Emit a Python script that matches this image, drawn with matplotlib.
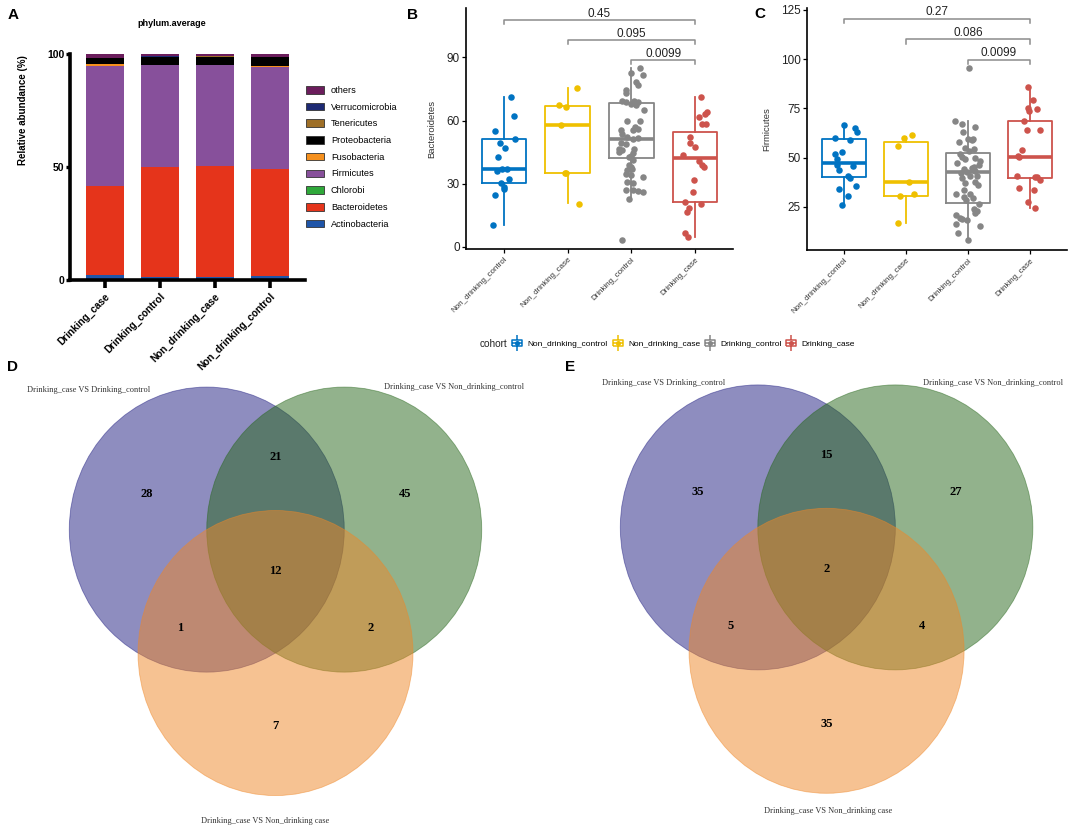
import numpy as np
import matplotlib
matplotlib.use("Agg")
import matplotlib.pyplot as plt
from matplotlib.patches import Circle, Patch
from matplotlib.lines import Line2D
from matplotlib.path import Path

plt.rcParams['font.family'] = ['Liberation Sans', 'DejaVu Sans']

W, H = 1084, 827

# ---------------- panel A data: phylum average (%)
groups_a = ['Drinking_case', 'Drinking_control', 'Non_drinking_case', 'Non_drinking_control']
phyla = ['Actinobacteria', 'Bacteroidetes', 'Chlorobi', 'Firmicutes', 'Fusobacteria',
         'Proteobacteria', 'Tenericutes', 'Verrucomicrobia', 'others']
phylum_colors = ['#1f55a8', '#e5341b', '#2fa83a', '#87509b', '#f5901e',
                 '#000000', '#9e6f27', '#1d2a73', '#6b1d5c']
abund_dcase = [2.2, 39.5, 0.1, 53.0, 0.9, 2.4, 0.2, 0.1, 1.6]
abund_dctrl = [1.4, 48.7, 0.1, 44.8, 0.2, 3.5, 0.1, 0.1, 1.1]
abund_ndcase = [1.4, 49.0, 0.1, 44.5, 0.2, 3.6, 0.1, 0.1, 1.0]
abund_ndctrl = [1.6, 47.5, 0.1, 45.2, 0.2, 4.0, 0.1, 0.1, 1.2]

# ---------------- panels B, C data
cohorts = ['Non_drinking_control', 'Non_drinking_case', 'Drinking_control', 'Drinking_case']
cohort_colors = ['#0073C2', '#EFC000', '#868686', '#CD534C']

# box stats per cohort: (lower whisker, q1, median, q3, upper whisker)
bact_stats = [[10.4, 30.5, 37.1, 51.1, 71.3], [20.7, 35.0, 57.9, 66.9, 75.3],
              [22.3, 42.4, 51.1, 68.5, 84.7], [4.9, 21.2, 42.1, 54.7, 71.3]]
firm_stats = [[25.8, 39.9, 47.3, 59.5, 66.4], [16.8, 30.5, 37.5, 57.7, 60.2],
              [8.0, 26.7, 42.6, 52.1, 68.7], [24.6, 39.5, 50.4, 68.7, 86.0]]

# Bacteroidetes samples and their horizontal jitter
bact_ndctrl = [71.3, 62.1, 54.9, 51.2, 49.3, 47.0, 42.5, 36.2, 37.1, 37.1, 32.4, 30.2, 28.6, 27.4, 24.5, 10.3]
bact_ndctrl_j = [0.10, 0.16, -0.14, 0.17, -0.06, 0.01, -0.09, -0.12, -0.04, 0.04, 0.08, -0.05, 0.0, 0.0, -0.14, -0.18]
bact_ndcase = [75.3, 67.4, 66.6, 57.9, 35.0, 35.2, 20.4]
bact_ndcase_j = [0.15, -0.13, -0.03, -0.11, -0.05, -0.03, 0.17]
bact_dctrl = [82.7, 84.7, 81.6, 78.4, 77.1, 74.5, 72.9, 69.5, 69.0, 69.5, 69.0, 68.0, 67.5, 64.9,
              59.9, 59.9, 56.8, 55.5, 55.8, 55.5, 53.6, 52.0, 51.1, 51.5, 49.5, 48.9, 46.3, 46.0,
              45.2, 46.3, 44.4, 43.2, 42.8, 41.3, 38.9, 38.1, 36.5, 36.9, 34.6, 34.2, 33.1, 31.0,
              30.2, 27.0, 27.0, 26.2, 26.5, 22.6, 3.3]
bact_dctrl_j = [0.0, 0.14, 0.19, 0.07, 0.11, -0.08, -0.09, -0.14, -0.08, 0.05, 0.11, 0.0, 0.07, 0.20,
                -0.06, 0.13, 0.06, 0.02, 0.10, -0.16, -0.14, -0.06, 0.02, 0.11, -0.16, -0.08, -0.20, -0.14,
                -0.19, 0.05, 0.02, 0.0, -0.04, 0.02, -0.03, 0.0, -0.06, 0.01, -0.08, 0.0, 0.18, -0.06,
                0.02, -0.08, 0.02, 0.19, 0.10, -0.03, -0.15]
bact_dcase = [71.3, 64.2, 63.1, 61.7, 58.3, 58.3, 52.0, 49.2, 47.6, 43.6, 41.0, 38.9, 37.8, 31.8,
              26.2, 21.2, 20.3, 18.4, 16.8, 6.8, 4.9]
bact_dcase_j = [0.09, 0.19, 0.16, 0.07, 0.11, 0.17, -0.08, -0.08, 0.01, -0.18, 0.07, 0.11, 0.14, -0.02,
                -0.03, -0.15, 0.10, -0.09, -0.12, -0.16, -0.11]

# Firmicutes samples and their horizontal jitter
firm_ndctrl = [66.5, 64.8, 63.1, 59.7, 58.9, 52.8, 51.8, 49.0, 46.2, 43.6, 45.6, 40.6, 39.5, 33.9, 35.5, 30.5, 26.0]
firm_ndctrl_j = [0.0, 0.18, 0.21, -0.14, 0.09, -0.04, -0.14, -0.11, -0.11, -0.09, 0.15, 0.06, 0.10, -0.09, 0.19, 0.06, -0.03]
firm_ndcase = [61.4, 59.9, 55.7, 37.5, 30.4, 31.3, 16.8]
firm_ndcase_j = [0.09, -0.03, -0.13, 0.04, -0.10, 0.13, -0.13]
firm_dctrl = [95.4, 68.7, 67.0, 63.1, 65.3, 58.9, 58.0, 54.7, 53.3, 54.1, 50.1, 49.1, 46.2, 44.5,
              42.7, 43.3, 42.2, 40.6, 39.4, 37.7, 36.8, 36.0, 31.7, 31.4, 30.0, 26.2, 23.6, 21.9,
              20.7, 19.0, 18.2, 16.1, 15.1, 11.4, 8.3, 59.6, 59.6, 52.0, 50.0, 48.4, 45.0, 40.7,
              33.5, 29.5, 22.8, 19.5, 47.0, 44.0, 28.5]
firm_dctrl_j = [0.02, -0.21, -0.10, -0.08, 0.12, 0.07, -0.14, -0.04, 0.02, 0.10, -0.10, -0.05, 0.18, 0.07,
                -0.01, 0.12, -0.12, 0.03, -0.09, 0.12, -0.04, 0.17, -0.20, 0.04, -0.06, 0.18, 0.10, 0.12,
                -0.20, -0.09, -0.01, -0.19, 0.19, -0.16, 0.0, 0.0, 0.08, -0.13, 0.12, 0.19, 0.10, 0.15,
                -0.06, 0.08, 0.14, -0.13, -0.18, -0.06, -0.03]
firm_dcase = [86.0, 79.2, 75.0, 74.7, 73.6, 68.7, 64.0, 64.0, 53.8, 50.7, 50.1, 40.6, 40.2, 38.5,
              39.9, 34.3, 33.4, 27.2, 24.1]
firm_dcase_j = [-0.03, 0.05, -0.03, 0.12, -0.02, -0.10, -0.04, 0.17, -0.13, -0.19, -0.17, -0.20, 0.11, 0.16,
                0.08, -0.18, 0.06, -0.03, 0.08]

# wilcoxon p-values: (group i, group j, bracket height, label)
bact_tests = [(1, 4, 107.7, '0.45'), (2, 4, 98.2, '0.095'), (3, 4, 88.7, '0.0099')]
firm_tests = [(1, 4, 120.5, '0.27'), (2, 4, 110.0, '0.086'), (3, 4, 99.7, '0.0099')]

# ---------------- panels D, E data (Venn counts)
# order: only left, left&right, only right, all three, left&bottom, right&bottom, only bottom
venn_sets = ['Drinking_case VS Drinking_control', 'Drinking_case VS Non_drinking_control',
             'Drinking_case VS Non_drinking case']
venn_d = [28, 21, 45, 12, 1, 2, 7]
venn_e = [35, 15, 27, 2, 5, 4, 35]
venn_colors = ['#1f1d81', '#27671b', '#ef8727']


def px_axes(left, top, right, bottom):
    return fig.add_axes([left / W, 1 - bottom / H, (right - left) / W, (bottom - top) / H])


fig = plt.figure(figsize=(W / 100, H / 100), dpi=100)

# ================= A: stacked bars
ax_a = px_axes(70, 54, 305, 280)
x_a = np.arange(len(groups_a))
shares = np.array([abund_dcase, abund_dctrl, abund_ndcase, abund_ndctrl])
bottom = np.zeros(len(groups_a))
for j, name in enumerate(phyla):
    ax_a.bar(x_a, shares[:, j], bottom=bottom, width=0.69, color=phylum_colors[j], linewidth=0)
    bottom += shares[:, j]
ax_a.set_xlim(-0.636, 3.636)
ax_a.set_ylim(0, 100)
ax_a.set_yticks([0, 50, 100])
ax_a.set_xticks(x_a)
ax_a.set_xticklabels(groups_a, rotation=45, ha='right', rotation_mode='anchor',
                     fontweight='bold', fontsize=7.2)
for s in ['top', 'right']:
    ax_a.spines[s].set_visible(False)
for s in ['left', 'bottom']:
    ax_a.spines[s].set_linewidth(2.6)
ax_a.tick_params(axis='y', length=3, width=2.4, labelsize=7.5, pad=1)
ax_a.tick_params(axis='x', length=6, width=2.6, pad=2)
for t in ax_a.get_yticklabels():
    t.set_fontweight('bold')
ax_a.set_ylabel('Relative abundance (%)', fontsize=7, fontweight='bold')
ax_a.yaxis.set_label_coords(-0.18, 0.75)
fig.text(172 / W, 1 - 24 / H, 'phylum.average', fontsize=6.5, fontweight='bold', ha='center', va='center')

handles = [Patch(facecolor=c, edgecolor='#333333', linewidth=0.6, label=n)
           for n, c in zip(phyla, phylum_colors)][::-1]
fig.legend(handles=handles, loc='upper left', bbox_to_anchor=(306 / W, 1 - 86 / H),
           frameon=False, fontsize=6.6, handlelength=2.0, handleheight=0.9,
           labelspacing=0.84, handletextpad=0.7, borderpad=0, borderaxespad=0)


# ================= B, C: box + jitter
def box_panel(ax, stats, values, jitters, tests, ylabel, yticks, ylim, label_x):
    pos = np.arange(1, 5)
    for i in range(4):
        col = cohort_colors[i]
        lo, q1, med, q3, hi = stats[i]
        ax.bxp([dict(whislo=lo, q1=q1, med=med, q3=q3, whishi=hi, fliers=[])],
               positions=[pos[i]], widths=0.7, showfliers=False, showcaps=False,
               boxprops=dict(color=col, linewidth=1.3),
               whiskerprops=dict(color=col, linewidth=1.3),
               medianprops=dict(color=col, linewidth=2.6))
        ax.scatter(pos[i] + np.array(jitters[i]), values[i], s=22, color=col,
                   linewidths=0, zorder=3)
    drop = 0.018 * (ylim[1] - ylim[0])
    for a, b, y, p in tests:
        ax.plot([a, a, b, b], [y - drop, y, y, y - drop], color='#8c8c8c', lw=1.1, clip_on=False)
        ax.text((a + b) / 2, y + 0.2, p, ha='center', va='bottom', fontsize=8.5, color='#222222')
    ax.set_xlim(0.4, 4.6)
    ax.set_ylim(*ylim)
    ax.set_yticks(yticks)
    ax.set_xticks(pos)
    ax.set_xticklabels(cohorts, rotation=45, ha='right', rotation_mode='anchor', fontsize=5.8,
                       color='#333333')
    ax.tick_params(axis='y', labelsize=8.5, length=3, width=0.9, pad=1.5, labelcolor='#222222')
    ax.tick_params(axis='x', length=3, width=0.9, pad=2)
    for s in ['top', 'right']:
        ax.spines[s].set_visible(False)
    for s in ['left', 'bottom']:
        ax.spines[s].set_linewidth(1.2)
    ax.set_ylabel(ylabel, fontsize=6.8, color='#333333')
    ax.yaxis.set_label_coords(label_x, 0.5)


ax_b = px_axes(466, 8, 733, 249)
box_panel(ax_b, bact_stats, [bact_ndctrl, bact_ndcase, bact_dctrl, bact_dcase],
          [bact_ndctrl_j, bact_ndcase_j, bact_dctrl_j, bact_dcase_j], bact_tests,
          'Bacteroidetes', [0, 30, 60, 90], (-0.95, 113.4), -0.11)

ax_c = px_axes(807, 8, 1067, 250)
box_panel(ax_c, firm_stats, [firm_ndctrl, firm_ndcase, firm_dctrl, firm_dcase],
          [firm_ndctrl_j, firm_ndcase_j, firm_dctrl_j, firm_dcase_j], firm_tests,
          'Firmicutes', [25, 50, 75, 100, 125], (3.0, 126.0), -0.136)

# cohort legend with small boxplot glyphs
glyph = Path([(-0.5, -0.3), (0.5, -0.3), (0.5, 0.3), (-0.5, 0.3), (-0.5, -0.3),
              (-0.5, 0.0), (0.5, 0.0), (0.0, 0.3), (0.0, 0.7), (0.0, -0.3), (0.0, -0.7)],
             [Path.MOVETO, Path.LINETO, Path.LINETO, Path.LINETO, Path.LINETO,
              Path.MOVETO, Path.LINETO, Path.MOVETO, Path.LINETO, Path.MOVETO, Path.LINETO])
coh_handles = []
for c in cohort_colors:
    box_h = Line2D([], [], marker=glyph, markersize=11, markerfacecolor='none',
                   markeredgecolor=c, markeredgewidth=1.1, linestyle='none')
    dot_h = Line2D([], [], marker='o', markersize=2.6, color=c, linestyle='none')
    coh_handles.append((box_h, dot_h))
fig.text(480 / W, 1 - 344 / H, 'cohort', fontsize=7.2, va='center', ha='left', color='#222222')
fig.legend(coh_handles, cohorts, loc='center left', bbox_to_anchor=(512 / W, 1 - 344 / H),
           ncol=4, frameon=False, fontsize=6, handlelength=1.3, handletextpad=0.6,
           columnspacing=0.5, borderpad=0, borderaxespad=0)


# ================= D, E: Venn diagrams
def venn_panel(ax, counts, name_xy):
    centers = [(-0.5, 0.2887), (0.5, 0.2887), (0.0, -0.5774)]
    for c, col in zip(centers, venn_colors):
        ax.add_patch(Circle(c, 1.0, facecolor=col, edgecolor=col, alpha=0.5, lw=0.6))
    region_xy = [(-0.94, 0.54), (0.0, 0.795), (0.94, 0.54), (0.0, 0.0),
                 (-0.695, -0.40), (0.695, -0.40), (0.0, -1.09)]
    for (x, y), n in zip(region_xy, counts):
        ax.text(x, y, str(n), ha='center', va='center', fontsize=9, fontweight='bold',
                family='Liberation Serif')
    for (x, y), name in zip(name_xy, venn_sets):
        ax.text(x, y, name, ha='center', va='center', fontsize=6, family='Liberation Serif',
                color='#333333')
    ax.axis('off')


ax_d = px_axes(0, 340, 540, 827)
ax_d.set_xlim(-2.004, 1.924)
ax_d.set_ylim(-1.798, 1.619)
venn_panel(ax_d, venn_d, [(-1.356, 1.268), (1.298, 1.291), (-0.073, -1.756)])

ax_e = px_axes(540, 340, 1084, 827)
ax_e.set_xlim(-2.084, 1.872)
ax_e.set_ylim(-1.814, 1.604)
venn_panel(ax_e, venn_e, [(-1.183, 1.30), (1.212, 1.304), (0.01, -1.70)])

# panel letters
for letter, (x, y) in zip('ABCDE', [(13, 15), (413, 15), (760, 14), (13, 367), (570, 367)]):
    fig.text(x / W, 1 - y / H, letter, fontsize=11, fontweight='bold', ha='center', va='center')

fig.savefig('out.png', dpi=100)
